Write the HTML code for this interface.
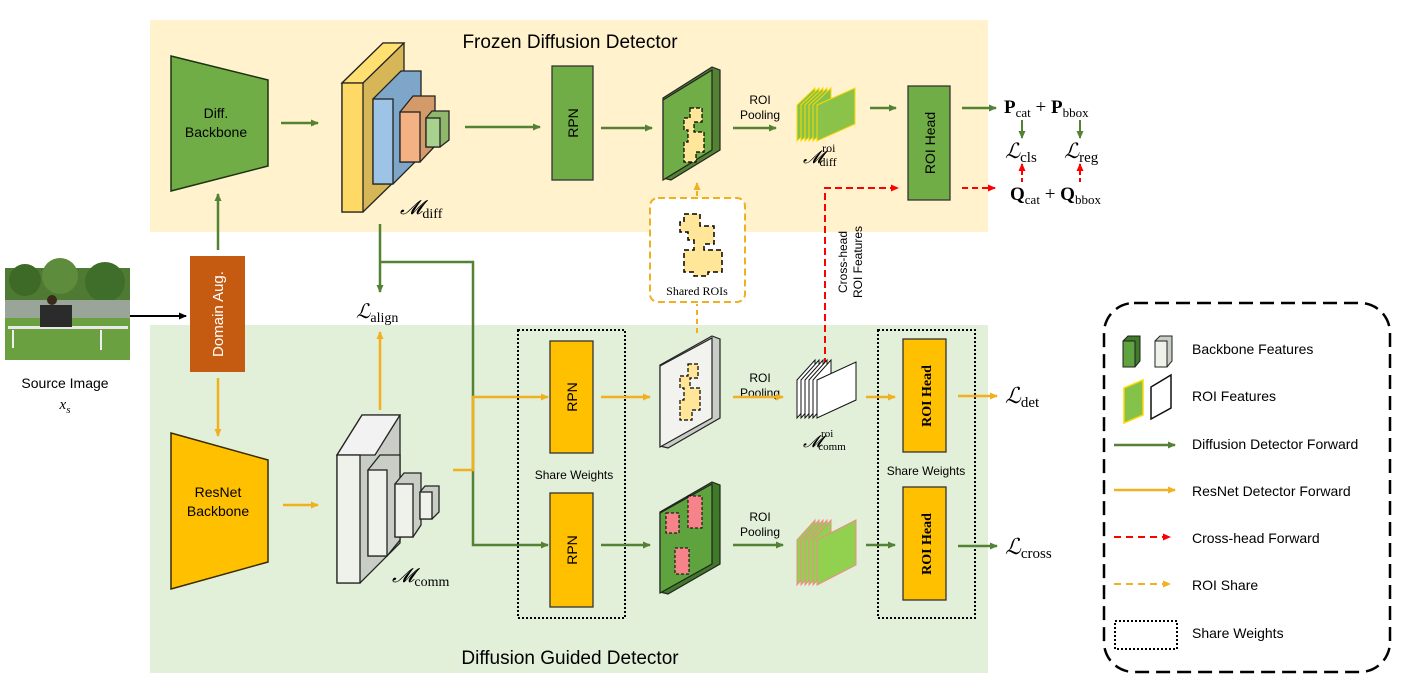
<!DOCTYPE html>
<html><head><meta charset="utf-8"><style>
html,body{margin:0;padding:0;background:#fff;}
svg{display:block;font-family:"Liberation Sans",sans-serif;}
.m{font-family:"Liberation Serif",serif;font-style:italic;}
.s{font-family:"Liberation Serif",serif;}
</style></head><body>
<svg width="1428" height="700" viewBox="0 0 1428 700" xmlns="http://www.w3.org/2000/svg">
<defs>
<marker id="ag" markerWidth="8" markerHeight="8" refX="7" refY="4" orient="auto" markerUnits="userSpaceOnUse"><path d="M0,0.5 L8,4 L0,7.5z" fill="#548235"/></marker>
<marker id="ao" markerWidth="8" markerHeight="8" refX="7" refY="4" orient="auto" markerUnits="userSpaceOnUse"><path d="M0,0.5 L8,4 L0,7.5z" fill="#f0b020"/></marker>
<marker id="ar" markerWidth="8" markerHeight="8" refX="7" refY="4" orient="auto" markerUnits="userSpaceOnUse"><path d="M0,0.5 L8,4 L0,7.5z" fill="#ff0000"/></marker>
<marker id="ak" markerWidth="8" markerHeight="8" refX="7" refY="4" orient="auto" markerUnits="userSpaceOnUse"><path d="M0,0.5 L8,4 L0,7.5z" fill="#000"/></marker>
</defs>
<rect x="150" y="20" width="838" height="212" fill="#fff2cc"/>
<rect x="150" y="325" width="838" height="348" fill="#e2efd9"/>
<text x="570" y="48" font-size="19" text-anchor="middle">Frozen Diffusion Detector</text>
<text x="570" y="664" font-size="19" text-anchor="middle">Diffusion Guided Detector</text>

<polygon points="171,56 268,80 268,166 171,191" fill="#70ad47" stroke="#1a3310" stroke-width="1.5"/>
<text x="216" y="118" font-size="14" text-anchor="middle">Diff.</text>
<text x="216" y="137" font-size="14" text-anchor="middle">Backbone</text>
<line x1="281" y1="123" x2="318" y2="123" stroke="#548235" stroke-width="2.5" marker-end="url(#ag)"/>

<polygon points="342,83 383,43 404,43 404,172 363,212 342,212" fill="#d6b656" stroke="#222" stroke-width="1.3"/>
<polygon points="342,83 383,43 404,43 363,83" fill="#ffe070" stroke="#222" stroke-width="1.3"/>
<rect x="342" y="83" width="21" height="129" fill="#ffd966" stroke="#222" stroke-width="1.3"/>
<polygon points="373,99 401,71 421,71 421,156 393,184 373,184" fill="#7ea6c8" stroke="#222" stroke-width="1.3"/>
<rect x="373" y="99" width="20" height="85" fill="#9dc3e6" stroke="#222" stroke-width="1.3"/>
<polygon points="400,112 413,96 435,96 435,146 420,162 400,162" fill="#d49a6a" stroke="#222" stroke-width="1.3"/>
<rect x="400" y="112" width="20" height="50" fill="#f4b183" stroke="#222" stroke-width="1.3"/>
<polygon points="426,118 432,111 449,111 449,140 440,147 426,147" fill="#8fb86d" stroke="#222" stroke-width="1.3"/>
<rect x="426" y="118" width="14" height="29" fill="#a9d18e" stroke="#222" stroke-width="1.3"/>
<text x="400" y="214" font-size="20" class="m">𝓜<tspan font-size="14" font-style="normal" dy="4">diff</tspan></text>

<line x1="465" y1="127" x2="540" y2="127" stroke="#548235" stroke-width="2.5" marker-end="url(#ag)"/>
<rect x="552" y="66" width="41" height="114" fill="#70ad47" stroke="#333" stroke-width="1.3"/>
<text transform="translate(578,123) rotate(-90)" font-size="14" text-anchor="middle">RPN</text>
<line x1="601" y1="128" x2="652" y2="128" stroke="#548235" stroke-width="2.5" marker-end="url(#ag)"/>

<polygon points="663,98 712,67 720,70 720,150 671,180 663,178" fill="#548235" stroke="#222" stroke-width="1.2"/>
<polygon points="663,100 712,70 712,150 663,180" fill="#70ad47" stroke="#222" stroke-width="1.2"/>
<path d="M690,108 h12 v14 h-8 v10 h10 v20 h-8 v10 h-12 v-20 h4 v-12 h-4 v-12 h6z" fill="#ffe699" stroke="#000" stroke-width="1.2" stroke-dasharray="4,2"/>
<text x="760" y="104" font-size="12" text-anchor="middle">ROI</text>
<text x="760" y="119" font-size="12" text-anchor="middle">Pooling</text>
<line x1="733" y1="128" x2="776" y2="128" stroke="#548235" stroke-width="2.5" marker-end="url(#ag)"/>
<g stroke="#ffd800" stroke-width="1">
<polygon points="797,105 815,88 815,124 797,141" fill="#84c24a"/>
<polygon points="801,105 819,88 819,124 801,141" fill="#84c24a"/>
<polygon points="805,105 823,88 823,124 805,141" fill="#84c24a"/>
<polygon points="809,105 827,88 827,124 809,141" fill="#84c24a"/>
<polygon points="813,105 831,88 831,124 813,141" fill="#84c24a"/>
<polygon points="817,105 855,88 855,124 817,141" fill="#8bc34a"/>
</g>
<text x="803" y="163" font-size="18" class="m">𝓜<tspan font-size="12" font-style="normal" dx="-1" dy="-11">roi</tspan><tspan font-size="12" font-style="normal" dx="-16" dy="14">diff</tspan></text>
<line x1="870" y1="108" x2="896" y2="108" stroke="#548235" stroke-width="2.5" marker-end="url(#ag)"/>
<rect x="908" y="86" width="42" height="114" fill="#70ad47" stroke="#333" stroke-width="1.3"/>
<text transform="translate(935,143) rotate(-90)" font-size="14" text-anchor="middle">ROI Head</text>
<line x1="962" y1="108" x2="996" y2="108" stroke="#548235" stroke-width="2.5" marker-end="url(#ag)"/>
<text x="1004" y="113" font-size="19" class="s" font-weight="bold">P<tspan font-size="13" font-weight="normal" dy="4">cat</tspan><tspan dy="-4" font-weight="normal"> + </tspan>P<tspan font-size="13" font-weight="normal" dy="4">bbox</tspan></text>
<line x1="1022" y1="120" x2="1022" y2="138" stroke="#548235" stroke-width="2" marker-end="url(#ag)"/>
<line x1="1080" y1="120" x2="1080" y2="138" stroke="#548235" stroke-width="2" marker-end="url(#ag)"/>
<text x="1005" y="158" font-size="21" class="m">ℒ<tspan font-size="15" font-style="normal" dy="4">cls</tspan></text>
<text x="1064" y="158" font-size="21" class="m">ℒ<tspan font-size="15" font-style="normal" dy="4">reg</tspan></text>
<line x1="1022" y1="182" x2="1022" y2="164" stroke="#ff0000" stroke-width="2" stroke-dasharray="4,3" marker-end="url(#ar)"/>
<line x1="1080" y1="182" x2="1080" y2="164" stroke="#ff0000" stroke-width="2" stroke-dasharray="4,3" marker-end="url(#ar)"/>
<text x="1010" y="200" font-size="19" class="s" font-weight="bold">Q<tspan font-size="13" font-weight="normal" dy="4">cat</tspan><tspan dy="-4" font-weight="normal"> + </tspan>Q<tspan font-size="13" font-weight="normal" dy="4">bbox</tspan></text>
<line x1="962" y1="188" x2="995" y2="188" stroke="#ff0000" stroke-width="2" stroke-dasharray="6,4" marker-end="url(#ar)"/>
<polyline points="825,365 825,188 898,188" fill="none" stroke="#ff0000" stroke-width="2" stroke-dasharray="7,4" marker-end="url(#ar)"/>
<text transform="translate(847,262) rotate(-90)" font-size="12" text-anchor="middle">Cross-head</text>
<text transform="translate(862,262) rotate(-90)" font-size="12" text-anchor="middle">ROI Features</text>

<rect x="650" y="198" width="95" height="104" rx="8" fill="#fff" stroke="#f0b020" stroke-width="2" stroke-dasharray="7,4"/>
<path d="M684,214 h16 v12 h14 v18 h-10 v6 h18 v22 h-14 v4 h-14 v-4 h-10 v-22 h10 v-10 h-6 v-8 h-8 v-10 h4z" fill="#ffe699" stroke="#000" stroke-width="1.5" stroke-dasharray="5,3"/>
<text x="697" y="295" font-size="12" class="s" text-anchor="middle">Shared ROIs</text>
<line x1="697" y1="333" x2="697" y2="304" stroke="#f0b020" stroke-width="2" stroke-dasharray="5,4"/>
<line x1="697" y1="196" x2="697" y2="183" stroke="#f0b020" stroke-width="2" stroke-dasharray="5,4" marker-end="url(#ao)"/>

<!-- Source image -->
<rect x="5" y="268" width="125" height="92" fill="#4f7a33"/>
<circle cx="25" cy="280" r="16" fill="#3d6a26"/><circle cx="60" cy="276" r="18" fill="#5d8c3c"/><circle cx="105" cy="282" r="20" fill="#3f6e2a"/>
<rect x="5" y="300" width="125" height="18" fill="#9aa59a"/>
<rect x="5" y="318" width="125" height="42" fill="#6aa040"/>
<rect x="8" y="326" width="120" height="3" fill="#e8e8e8"/>
<rect x="12" y="330" width="2" height="18" fill="#eee"/><rect x="100" y="330" width="2" height="20" fill="#eee"/>
<circle cx="52" cy="300" r="5" fill="#3a2a1a"/><rect x="40" y="305" width="32" height="22" fill="#2b2b2b"/>
<text x="65" y="388" font-size="14" text-anchor="middle">Source Image</text>
<text x="65" y="409" font-size="15" class="m" text-anchor="middle">x<tspan font-size="11" dy="4">s</tspan></text>
<line x1="130" y1="316" x2="186" y2="316" stroke="#000" stroke-width="2" marker-end="url(#ak)"/>
<rect x="190" y="256" width="55" height="116" fill="#c55a11"/>
<text transform="translate(223,314) rotate(-90)" font-size="15" fill="#fff" text-anchor="middle">Domain Aug.</text>
<line x1="218" y1="250" x2="218" y2="194" stroke="#548235" stroke-width="2.5" marker-end="url(#ag)"/>
<line x1="218" y1="378" x2="218" y2="436" stroke="#f0b020" stroke-width="2.5" marker-end="url(#ao)"/>

<polygon points="171,433 268,460 268,562 171,589" fill="#ffc000" stroke="#3a2a00" stroke-width="1.5"/>
<text x="218" y="497" font-size="14" text-anchor="middle">ResNet</text>
<text x="218" y="516" font-size="14" text-anchor="middle">Backbone</text>
<line x1="283" y1="505" x2="318" y2="505" stroke="#f0b020" stroke-width="2.5" marker-end="url(#ao)"/>

<polygon points="337,455 362,415 400,415 400,543 360,583 337,583" fill="#c8cec6" stroke="#222" stroke-width="1.3"/>
<polygon points="337,455 362,415 400,415 375,455" fill="#f2f2f2" stroke="#222" stroke-width="1.3"/>
<rect x="337" y="455" width="23" height="128" fill="#eef2ea" stroke="#222" stroke-width="1.3"/>
<polygon points="368,470 380,455 400,455 400,540 387,556 368,556" fill="#c8cec6" stroke="#222" stroke-width="1.3"/>
<rect x="368" y="470" width="19" height="86" fill="#eef2ea" stroke="#222" stroke-width="1.3"/>
<polygon points="395,484 404,473 421,473 421,525 413,537 395,537" fill="#c8cec6" stroke="#222" stroke-width="1.3"/>
<rect x="395" y="484" width="18" height="53" fill="#eef2ea" stroke="#222" stroke-width="1.3"/>
<polygon points="420,492 425,486 439,486 439,512 432,519 420,519" fill="#c8cec6" stroke="#222" stroke-width="1.3"/>
<rect x="420" y="492" width="12" height="27" fill="#eef2ea" stroke="#222" stroke-width="1.3"/>
<text x="392" y="582" font-size="20" class="m">𝓜<tspan font-size="14" font-style="normal" dy="4">comm</tspan></text>

<line x1="380" y1="410" x2="380" y2="332" stroke="#f0b020" stroke-width="2.5" marker-end="url(#ao)"/>
<text x="356" y="318" font-size="20" class="m">ℒ<tspan font-size="14" font-style="normal" dy="4">align</tspan></text>
<line x1="380" y1="224" x2="380" y2="292" stroke="#548235" stroke-width="2.5" marker-end="url(#ag)"/>
<polyline points="380,262 473,262 473,545 548,545" fill="none" stroke="#548235" stroke-width="2.5" marker-end="url(#ag)"/>
<polyline points="453,470 473,470 473,397 548,397" fill="none" stroke="#f0b020" stroke-width="2.5" marker-end="url(#ao)"/>

<rect x="518" y="330" width="107" height="288" fill="none" stroke="#000" stroke-width="2" stroke-dasharray="2,2"/>
<rect x="550" y="341" width="43" height="112" fill="#ffc000" stroke="#333" stroke-width="1.3"/>
<text transform="translate(577,397) rotate(-90)" font-size="14" text-anchor="middle">RPN</text>
<rect x="550" y="493" width="43" height="114" fill="#ffc000" stroke="#333" stroke-width="1.3"/>
<text transform="translate(577,550) rotate(-90)" font-size="14" text-anchor="middle">RPN</text>
<text x="574" y="479" font-size="12" text-anchor="middle">Share Weights</text>
<line x1="601" y1="397" x2="650" y2="397" stroke="#f0b020" stroke-width="2.5" marker-end="url(#ao)"/>
<line x1="601" y1="545" x2="650" y2="545" stroke="#548235" stroke-width="2.5" marker-end="url(#ag)"/>

<polygon points="660,365 712,336 720,339 720,418 668,448 660,446" fill="#c8cec6" stroke="#222" stroke-width="1.2"/>
<polygon points="660,366 712,338 712,418 660,447" fill="#f2f2ee" stroke="#222" stroke-width="1.2"/>
<path d="M688,364 h10 v14 h-8 v10 h10 v22 h-8 v10 h-12 v-20 h4 v-12 h-4 v-12 h8z" fill="#ffe699" stroke="#000" stroke-width="1.2" stroke-dasharray="4,2"/>
<polygon points="660,512 712,482 720,485 720,564 668,594 660,592" fill="#3f7a28" stroke="#222" stroke-width="1.2"/>
<polygon points="660,513 712,484 712,564 660,593" fill="#5fa33f" stroke="#222" stroke-width="1.2"/>
<rect x="666" y="513" width="13" height="20" fill="#f4848a" stroke="#000" stroke-dasharray="3,2"/>
<rect x="688" y="496" width="14" height="32" fill="#f4848a" stroke="#000" stroke-dasharray="3,2"/>
<rect x="675" y="548" width="14" height="26" fill="#f4848a" stroke="#000" stroke-dasharray="3,2"/>

<text x="760" y="382" font-size="12" text-anchor="middle">ROI</text>
<text x="760" y="397" font-size="12" text-anchor="middle">Pooling</text>
<line x1="733" y1="397" x2="783" y2="397" stroke="#f0b020" stroke-width="2.5" marker-end="url(#ao)"/>
<text x="760" y="521" font-size="12" text-anchor="middle">ROI</text>
<text x="760" y="536" font-size="12" text-anchor="middle">Pooling</text>
<line x1="733" y1="545" x2="783" y2="545" stroke="#548235" stroke-width="2.5" marker-end="url(#ag)"/>

<g stroke="#111" stroke-width="1">
<polygon points="797,380 815,360 815,398 797,418" fill="#fff"/>
<polygon points="801,380 819,360 819,398 801,418" fill="#fff"/>
<polygon points="805,380 823,360 823,398 805,418" fill="#fff"/>
<polygon points="809,380 827,360 827,398 809,418" fill="#fff"/>
<polygon points="813,380 831,360 831,398 813,418" fill="#fff"/>
<polygon points="817,380 856,362 856,400 817,418" fill="#fff"/>
</g>
<text x="803" y="447" font-size="17" class="m">𝓜<tspan font-size="11" font-style="normal" dx="-1" dy="-10">roi</tspan><tspan font-size="11" font-style="normal" dx="-15" dy="13">comm</tspan></text>
<g stroke="#f08a8a" stroke-width="1">
<polygon points="797,540 815,520 815,565 797,585" fill="#92d050"/>
<polygon points="801,540 819,520 819,565 801,585" fill="#92d050"/>
<polygon points="805,540 823,520 823,565 805,585" fill="#92d050"/>
<polygon points="809,540 827,520 827,565 809,585" fill="#92d050"/>
<polygon points="813,540 831,520 831,565 813,585" fill="#92d050"/>
<polygon points="817,540 856,520 856,565 817,585" fill="#92d050"/>
</g>

<rect x="878" y="330" width="97" height="288" fill="none" stroke="#000" stroke-width="2" stroke-dasharray="2,2"/>
<line x1="866" y1="397" x2="895" y2="397" stroke="#f0b020" stroke-width="2.5" marker-end="url(#ao)"/>
<line x1="866" y1="545" x2="895" y2="545" stroke="#548235" stroke-width="2.5" marker-end="url(#ag)"/>
<rect x="903" y="339" width="43" height="113" fill="#ffc000" stroke="#333" stroke-width="1.3"/>
<text transform="translate(931,396) rotate(-90)" font-size="14" font-weight="bold" class="s" text-anchor="middle">ROI Head</text>
<rect x="903" y="487" width="43" height="113" fill="#ffc000" stroke="#333" stroke-width="1.3"/>
<text transform="translate(931,544) rotate(-90)" font-size="14" font-weight="bold" class="s" text-anchor="middle">ROI Head</text>
<text x="926" y="475" font-size="12" text-anchor="middle">Share Weights</text>
<line x1="958" y1="396" x2="997" y2="396" stroke="#f0b020" stroke-width="2.5" marker-end="url(#ao)"/>
<line x1="958" y1="546" x2="997" y2="546" stroke="#548235" stroke-width="2.5" marker-end="url(#ag)"/>
<text x="1005" y="403" font-size="22" class="m">ℒ<tspan font-size="15" font-style="normal" dy="4">det</tspan></text>
<text x="1005" y="554" font-size="22" class="m">ℒ<tspan font-size="15" font-style="normal" dy="4">cross</tspan></text>

<rect x="1104" y="303" width="286" height="369" rx="30" fill="none" stroke="#000" stroke-width="2.5" stroke-dasharray="14,7"/>
<polygon points="1123,341 1128,336 1140,336 1140,361 1135,367 1123,367" fill="#3f7a28" stroke="#222"/>
<rect x="1123" y="341" width="12" height="26" fill="#5fa33f" stroke="#222"/>
<polygon points="1155,341 1160,336 1172,336 1172,361 1167,367 1155,367" fill="#c8cec6" stroke="#222"/>
<rect x="1155" y="341" width="12" height="26" fill="#eef2ea" stroke="#222"/>
<text x="1192" y="354" font-size="14">Backbone Features</text>
<polygon points="1124,388 1143,380 1143,415 1124,423" fill="#84c24a" stroke="#ffd800" stroke-width="1.5"/>
<polygon points="1151,387 1171,375 1171,408 1151,419" fill="#fff" stroke="#111" stroke-width="1.5"/>
<text x="1192" y="401" font-size="14">ROI Features</text>
<line x1="1114" y1="445" x2="1175" y2="445" stroke="#548235" stroke-width="2.5" marker-end="url(#ag)"/>
<text x="1192" y="449" font-size="14">Diffusion Detector Forward</text>
<line x1="1114" y1="490" x2="1175" y2="490" stroke="#f0b020" stroke-width="2.5" marker-end="url(#ao)"/>
<text x="1192" y="496" font-size="14">ResNet Detector Forward</text>
<line x1="1114" y1="537" x2="1170" y2="537" stroke="#ff0000" stroke-width="2" stroke-dasharray="7,5" marker-end="url(#ar)"/>
<text x="1192" y="543" font-size="14">Cross-head Forward</text>
<line x1="1114" y1="584" x2="1170" y2="584" stroke="#f0b020" stroke-width="2" stroke-dasharray="7,5" marker-end="url(#ao)"/>
<text x="1192" y="590" font-size="14">ROI Share</text>
<rect x="1115" y="621" width="62" height="28" fill="none" stroke="#000" stroke-width="2" stroke-dasharray="2,2"/>
<text x="1192" y="638" font-size="14">Share Weights</text>
</svg>
</body></html>
